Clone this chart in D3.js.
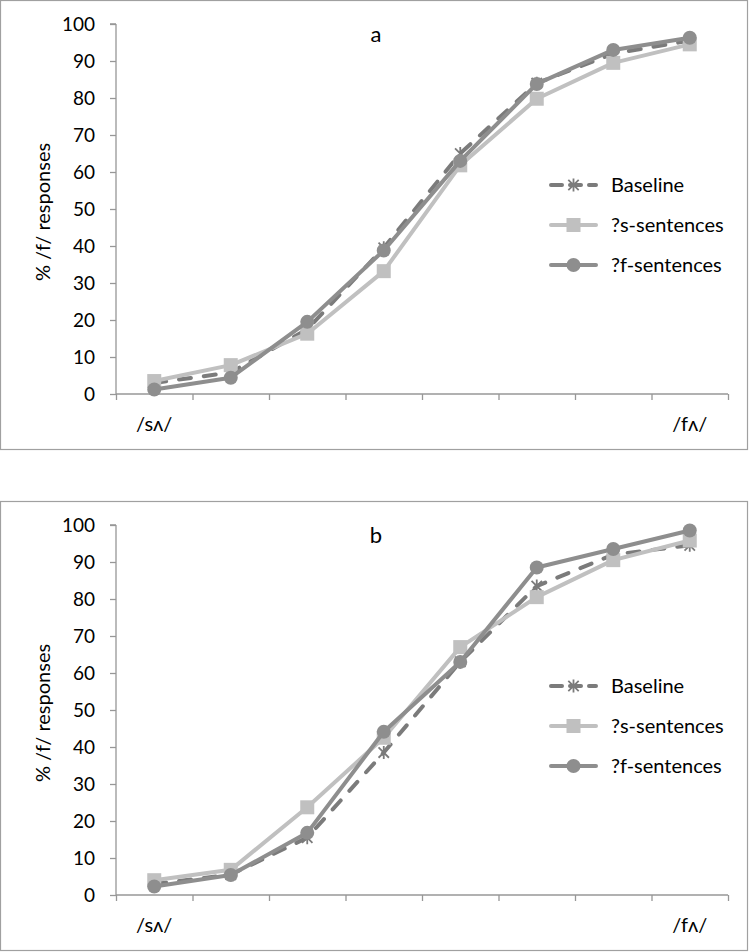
<!DOCTYPE html>
<html><head><meta charset="utf-8">
<script src="https://cdn.jsdelivr.net/npm/d3@7"></script>
<style>body{margin:0;background:#fff}svg{display:block}text{font-family:Lato,"Open Sans",sans-serif;fill:#000}</style>
</head><body>
<script>
// ---- data ----
const steps = [1, 2, 3, 4, 5, 6, 7, 8];
const xLabels = ["/sʌ/", "", "", "", "", "", "", "/fʌ/"];
const yTicks = [0, 10, 20, 30, 40, 50, 60, 70, 80, 90, 100];
const seriesNames = ["Baseline", "?s-sentences", "?f-sentences"];
const panelTitles = ["a", "b"];

const aBaseline = [3, 5.8, 17.5, 39.5, 65, 84, 92, 95.5];
const aSSent    = [3.5, 7.8, 16.3, 33.2, 61.8, 79.8, 89.5, 94.5];
const aFSent    = [1.2, 4.4, 19.5, 38.8, 63, 83.8, 93, 96.3];

const bBaseline = [3, 5.5, 15.5, 38.5, 63, 83.5, 92, 94.5];
const bSSent    = [4, 6.8, 23.7, 42.5, 67, 80.5, 90.5, 95.8];
const bFSent    = [2.3, 5.4, 16.8, 44.1, 63, 88.5, 93.5, 98.5];

const panels = [
  {title: panelTitles[0], series: [aBaseline, aSSent, aFSent]},
  {title: panelTitles[1], series: [bBaseline, bSSent, bFSent]}
];

// ---- styles ----
const W = 752, H = 952;
const colors = ["#7b7b7b", "#c0c0c0", "#8e8e8e"];
const markers = ["star", "square", "circle"];
const dashes = ["12,13", null, null];
const panelTop = [0, 501];
const panelH = 450;
const plot = {left: 116, right: 728, top: 24, bottom: 394};

const svg = d3.select("body").append("svg").attr("width", W).attr("height", H);

function drawMarker(g, type, x, y, color) {
  if (type === "square") {
    g.append("rect").attr("x", x - 7).attr("y", y - 7).attr("width", 14).attr("height", 14).attr("fill", color);
  } else if (type === "circle") {
    g.append("circle").attr("cx", x).attr("cy", y).attr("r", 7).attr("fill", color);
  } else {
    const r = 6.5;
    g.append("path")
      .attr("d", `M${x},${y - r}L${x},${y + r}M${x - r * 0.8},${y - r * 0.8}L${x + r * 0.8},${y + r * 0.8}M${x - r * 0.8},${y + r * 0.8}L${x + r * 0.8},${y - r * 0.8}`)
      .attr("stroke", color).attr("stroke-width", 1.8).attr("fill", "none");
  }
}

panels.forEach((p, pi) => {
  const g = svg.append("g").attr("transform", `translate(0,${panelTop[pi]})`);
  g.append("rect").attr("x", 0.5).attr("y", 0.5).attr("width", 747).attr("height", panelH - 1)
    .attr("fill", "#fff").attr("stroke", "#a0a0a0").attr("stroke-width", 1.2);

  const xEdge = d3.scaleLinear().domain([0, steps.length]).range([plot.left, plot.right]);
  const xc = i => xEdge(i + 0.5);
  const y = d3.scaleLinear().domain([0, 100]).range([plot.bottom, plot.top]);

  // y axis
  const ya = g.append("g").attr("transform", `translate(${plot.left},0)`)
    .call(d3.axisLeft(y).tickValues(yTicks).tickSize(6).tickPadding(15));
  ya.selectAll("path,line").attr("stroke", "#979797").attr("stroke-width", 1.3);
  ya.select(".domain").attr("d", `M0,${plot.bottom}V${plot.top}M-6,${plot.top}H0`);
  ya.selectAll("text").style("font-size", "19px").style("font-family", "Lato").attr("fill", "#000");

  // x axis
  const xa = g.append("g").attr("transform", `translate(0,${plot.bottom})`)
    .call(d3.axisBottom(xEdge).tickValues(d3.range(0, steps.length + 1)).tickSize(6).tickFormat(""));
  xa.selectAll("path,line").attr("stroke", "#979797").attr("stroke-width", 1.3);
  xa.select(".domain").attr("d", `M${plot.left},0H${plot.right}`);

  g.selectAll(".xl").data(xLabels).enter().append("text")
    .attr("x", (d, i) => xc(i)).attr("y", plot.bottom + 37)
    .attr("text-anchor", "middle").style("font-size", "20px").text(d => d);

  // axis title
  g.append("text").attr("transform", `translate(50,${(plot.top + plot.bottom) / 2 + 3}) rotate(-90)`)
    .attr("text-anchor", "middle").style("font-size", "20px").text("% /f/ responses");

  // panel title
  g.append("text").attr("x", 376).attr("y", 42).attr("text-anchor", "middle")
    .style("font-size", "22px").text(p.title);

  // series
  const line = d3.line().x((d, i) => xc(i)).y(d => y(d));
  p.series.forEach((vals, si) => {
    const sg = g.append("g");
    const path = sg.append("path").datum(vals).attr("d", line)
      .attr("fill", "none").attr("stroke", colors[si]).attr("stroke-width", 4)
      .attr("stroke-linejoin", "round").attr("stroke-linecap", "round");
    if (dashes[si]) path.attr("stroke-dasharray", dashes[si]);
    vals.forEach((v, i) => drawMarker(sg, markers[si], xc(i), y(v), colors[si]));
  });

  // legend
  const legY = [185, 225, 265];
  seriesNames.forEach((name, si) => {
    const lg = g.append("g");
    const ln = lg.append("line").attr("x1", 551).attr("x2", 596).attr("y1", legY[si]).attr("y2", legY[si])
      .attr("stroke", colors[si]).attr("stroke-width", 4).attr("stroke-linecap", "round");
    if (dashes[si]) ln.attr("stroke-dasharray", "11,8");
    drawMarker(lg, markers[si], 573.5, legY[si], colors[si]);
    lg.append("text").attr("x", 611).attr("y", legY[si] + 7).style("font-size", "20px").text(name);
  });
});
</script>
</body></html>
